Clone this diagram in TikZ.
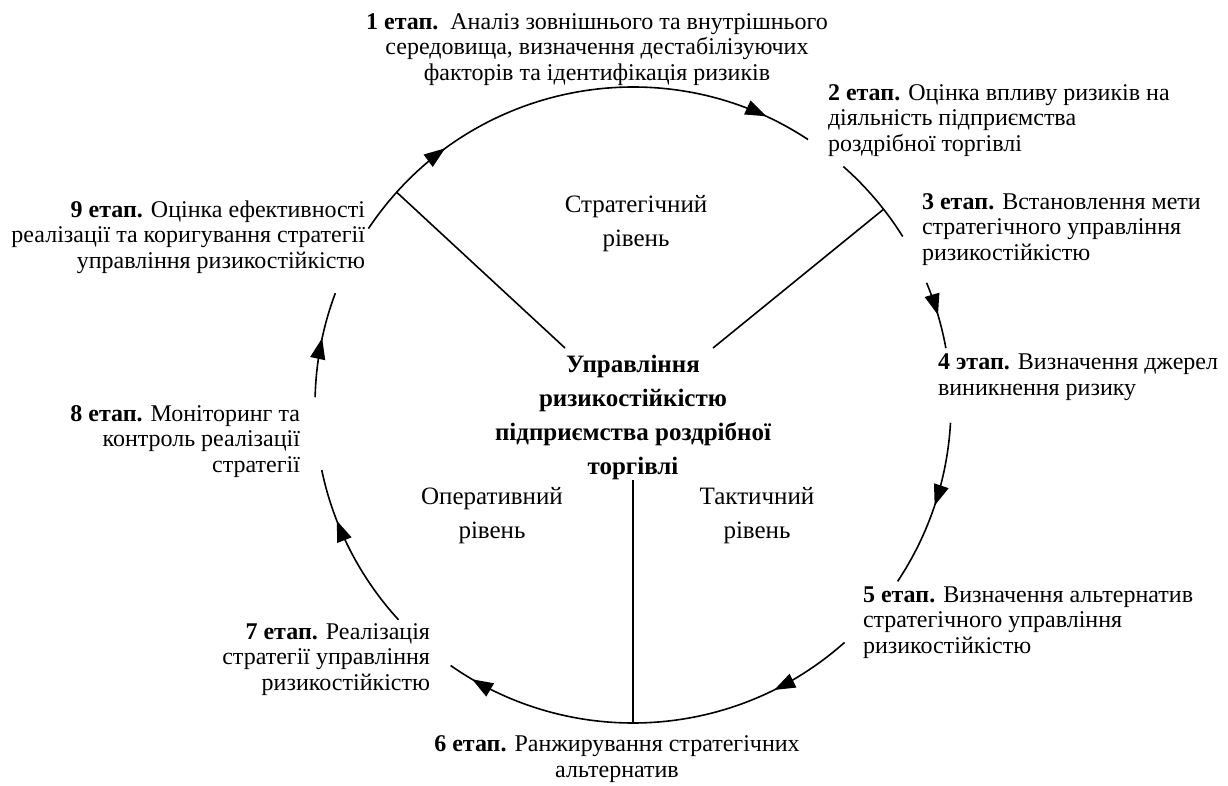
\documentclass[tikz,border=0pt]{standalone}
\usepackage{fontspec}
\setmainfont{Liberation Serif}
\usetikzlibrary{arrows.meta,decorations.markings}
\lineskiplimit=-60pt
\begin{document}
\begin{tikzpicture}[x=1pt,y=1pt,
  every node/.style={inner sep=0pt, outer sep=0pt, font=\fontsize{24}{25.5}\selectfont},
  innertext/.style={font=\fontsize{25}{33.5}\selectfont, align=center},
  coretext/.style={font=\fontsize{25}{33.8}\selectfont\bfseries, align=center},
  ln/.style={line width=1.6pt},
  arrowat/.style={postaction={decorate,decoration={markings,
      mark=at position #1 with {\arrow{Triangle[length=21pt,width=15pt]}}}}},
  arrowtwo/.style 2 args={postaction={decorate,decoration={markings,
      mark=at position #1 with {\arrow{Triangle[length=21pt,width=15pt]}},
      mark=at position #2 with {\arrow{Triangle[length=21pt,width=15pt]}}}}},
]
\useasboundingbox (0,0) rectangle (1228,-785);
\def\R{318}
\coordinate (c) at (633,-405);

% stage labels (anchor base = baseline of the last line)
\node[anchor=base, align=center] (s1) at (597,-80) {\textbf{1 етап.}\ \ Аналіз зовнішнього та внутрішнього\\середовища, визначення дестабілізуючих\\факторів та ідентифікація ризиків};
\node[anchor=base west, align=left] (s2) at (828,-151) {\textbf{2 етап.} Оцінка впливу ризиків на\\діяльність підприємства\\роздрібної торгівлі};
\node[anchor=base west, align=left] (s3) at (922,-260) {\textbf{3 етап.} Встановлення мети\\стратегічного управління\\ризикостійкістю};
\node[anchor=base west, align=left] (s4) at (938,-395) {\textbf{4 этап.} Визначення джерел\\виникнення ризику};
\node[anchor=base west, align=left] (s5) at (863,-653) {\textbf{5 етап.} Визначення альтернатив\\стратегічного управління\\ризикостійкістю};
\node[anchor=base, align=center] (s6) at (617,-777) {\textbf{6 етап.} Ранжирування стратегічних\\альтернатив};
\node[anchor=base east, align=right] (s7) at (430,-690) {\textbf{7 етап.} Реалізація\\стратегії управління\\ризикостійкістю};
\node[anchor=base east, align=right] (s8) at (300,-472) {\textbf{8 етап.} Моніторинг та\\контроль реалізації\\стратегії};
\node[anchor=base east, align=right] (s9) at (365,-268) {\textbf{9 етап.} Оцінка ефективності\\реалізації та коригування стратегії\\управління ризикостійкістю};

% inner labels
\node[coretext, anchor=base] (core) at (633,-474) {Управління\\ризикостійкістю\\підприємства роздрібної\\торгівлі};
\node[innertext, anchor=base] (strat) at (636,-246) {Стратегічний\\рівень};
\node[innertext, anchor=base] (oper) at (492,-538) {Оперативний\\рівень};
\node[innertext, anchor=base] (tact) at (757,-538) {Тактичний\\рівень};

% radial lines
\coordinate (la) at (565,-348);
\path (c) ++(138:\R) coordinate (lb);
\coordinate (ra) at (713,-348);
\path (c) ++(38:\R) coordinate (rb);
\coordinate (va) at (633,-480);
\path (c) ++(-90:\R) coordinate (vb);
\draw[ln] (la) -- (lb);
\draw[ln] (ra) -- (rb);
\draw[ln] (va) -- (vb);

% arcs (clockwise)
\path (c) ++(146.3:\R) coordinate (a1);
\draw[ln, arrowtwo={0.224}{0.904}] (a1) arc[start angle=146.3, end angle=56.6, radius=\R];
\path (c) ++(48.6:\R) coordinate (a2);
\draw[ln] (a2) arc[start angle=48.6, end angle=32.0, radius=\R];
\path (c) ++(22.6:\R) coordinate (a3);
\draw[ln, arrowat=0.5] (a3) arc[start angle=22.6, end angle=10.3, radius=\R];
\path (c) ++(-3.2:\R) coordinate (a4);
\draw[ln, arrowat=0.5] (a4) arc[start angle=-3.2, end angle=-33.7, radius=\R];
\path (c) ++(-48.3:\R) coordinate (a5);
\draw[ln, arrowtwo={0.2}{0.94}] (a5) arc[start angle=-48.3, end angle=-125, radius=\R];
\path (c) ++(222.5:\R) coordinate (a6);
\draw[ln, arrowat=0.69] (a6) arc[start angle=222.5, end angle=191.8, radius=\R];
\path (c) ++(178.6:\R) coordinate (a7);
\draw[ln, arrowat=0.56] (a7) arc[start angle=178.6, end angle=159.4, radius=\R];
\end{tikzpicture}
\end{document}
